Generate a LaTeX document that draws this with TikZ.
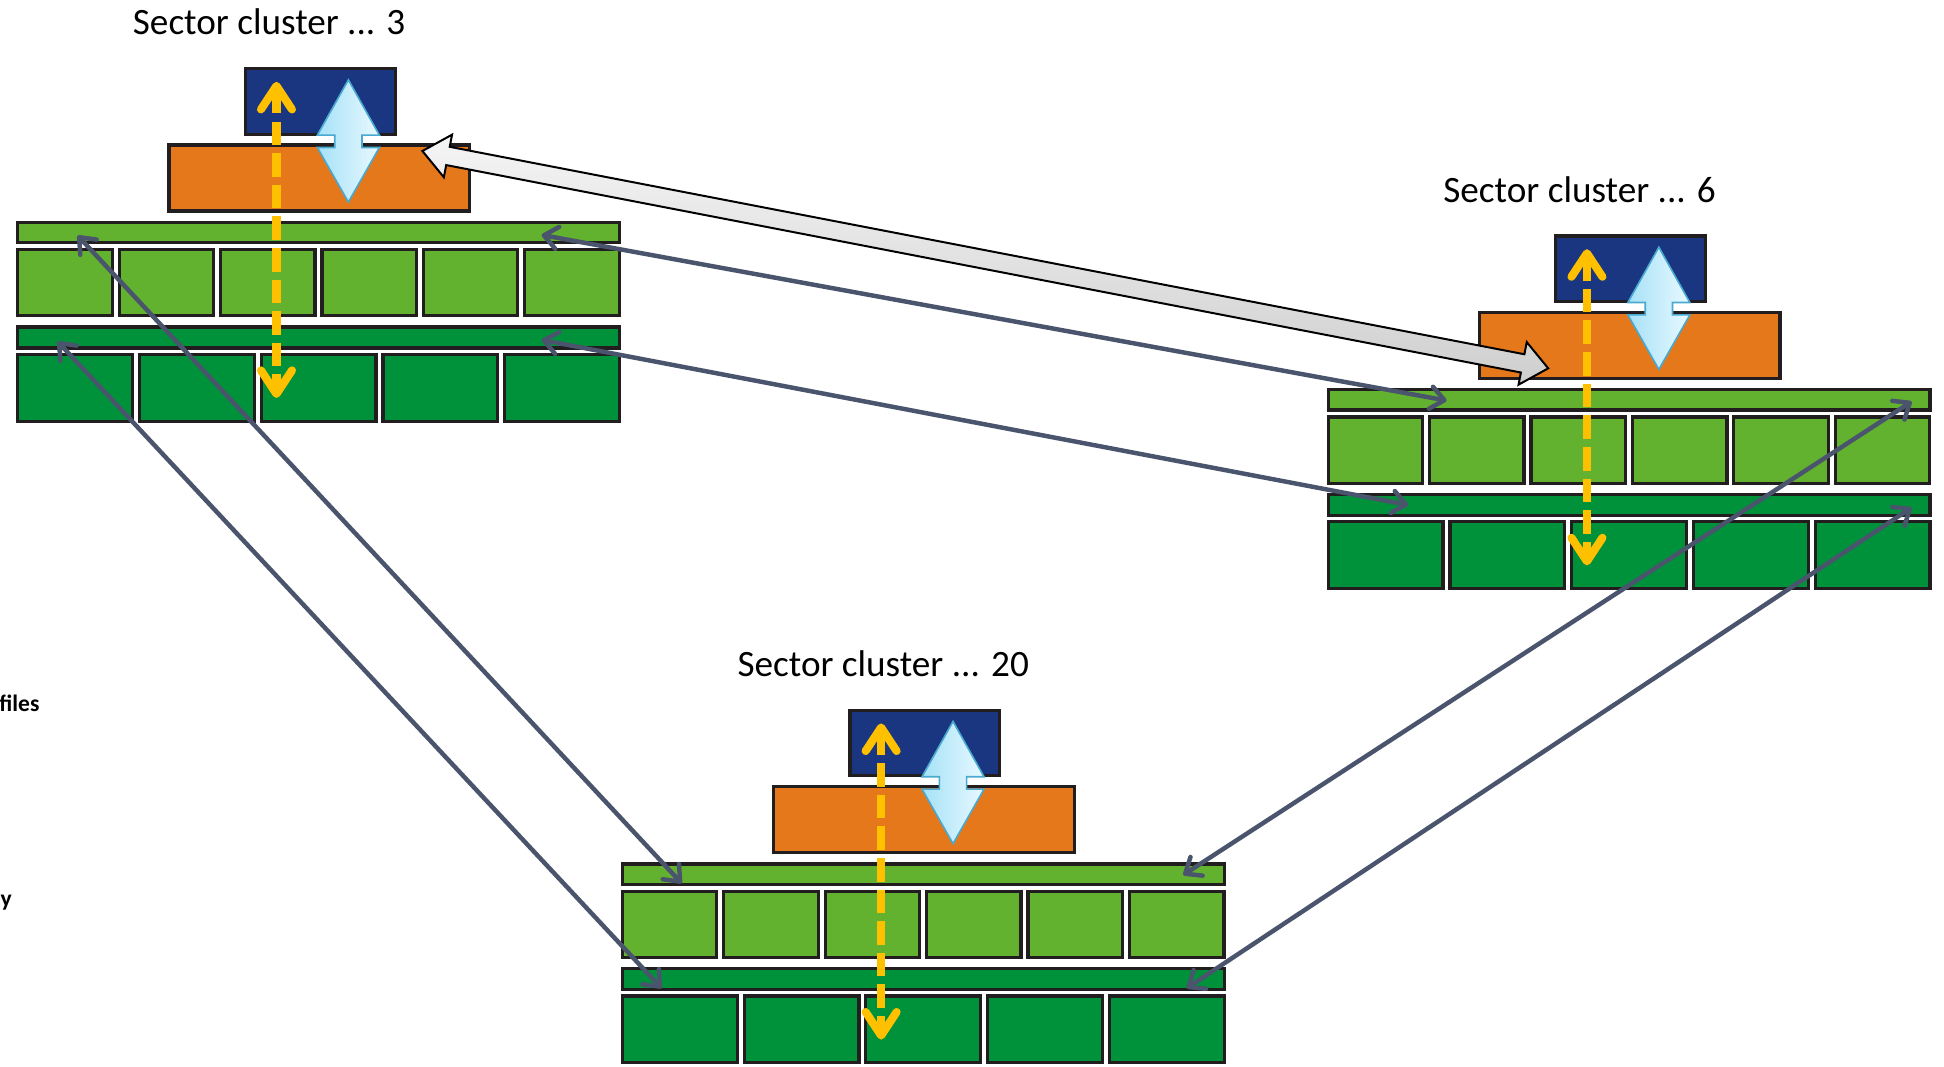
\documentclass[tikz,border=0pt]{standalone}
\usepackage{fontspec}
\setmainfont{Carlito}
\usetikzlibrary{arrows.meta,calc}
\definecolor{lgreen}{HTML}{62B22F}
\definecolor{dgreen}{HTML}{00913B}
\definecolor{orangec}{HTML}{E4781B}
\definecolor{bluec}{HTML}{1B3681}
\definecolor{yellowc}{HTML}{FFC000}
\definecolor{boxline}{HTML}{221E1F}
\definecolor{connc}{HTML}{4A556D}
\definecolor{lbfill}{HTML}{A6E1F7}
\definecolor{lbfilltwo}{HTML}{E8F9FF}
\definecolor{lbline}{HTML}{49A9D0}
\tikzset{
  cellbox/.style={draw=boxline, line width=2.6pt, inner sep=0pt, outer sep=0pt, anchor=north west},
  lgbox/.style={fill=lgreen},
  dgbox/.style={fill=dgreen},
  orangebox/.style={fill=orangec},
  bluebox/.style={fill=bluec},
  titletext/.style={font=\fontsize{30}{34}\selectfont, inner sep=0pt},
  sidetext/.style={font=\bfseries\fontsize{19}{22}\selectfont, inner sep=0pt},
  yarrow/.style={draw=yellowc, line width=6.5pt, dash pattern=on 19pt off 6.5pt,
     arrows={Straight Barb[length=19pt,width=25pt,round]-Straight Barb[length=19pt,width=25pt,round]}},
  lbarrow/.style={draw=lbline, line width=1.3pt, left color=lbfill, right color=lbfilltwo, line join=miter},
  conn/.style={draw=connc, line width=3.6pt, line cap=round,
     arrows={Straight Barb[length=11pt,width=18pt,round]-Straight Barb[length=11pt,width=18pt,round]}},
  grayarrow/.style={draw=black, line width=1.6pt, top color=gray!8, bottom color=gray!38, line join=miter}
}
\newcommand\rectnode[6]{%
  \node[cellbox,#1, minimum width={#5pt-2.6pt}, minimum height={#6pt-2.6pt}] (#2) at ({#3+1.3},{-(#4)-1.3}) {};}
\newcommand\sectorcluster[4]{%
\begin{scope}[shift={(#2,-#3)}]
  \node[titletext, anchor=base west] (#1t) at (94,150) {#4};
  \rectnode{bluebox}{#1bl}{183.5}{-124}{123.5}{55.5}
  \rectnode{orangebox}{#1or}{122}{-62.3}{245}{55.8}
  \rectnode{lgbox}{#1lb}{0}{0}{488}{19}
  \foreach \i in {0,...,5} {\rectnode{lgbox}{#1lc\i}{\i*81.8}{22}{78.8}{56}}
  \rectnode{dgbox}{#1db}{0}{84.5}{488}{19.5}
  \foreach \i in {0,...,4} {\rectnode{dgbox}{#1dc\i}{\i*98.2}{106.5}{95.2}{56.5}}
\end{scope}}
\newcommand\clusterarrows[3]{%
\begin{scope}[shift={(#2,-#3)}]
  \coordinate (#1yt) at (210,112);
  \coordinate (#1yb) at (210,-143);
  \draw[yarrow] (#1yt) -- (#1yb);
  \draw[lbarrow] (268,113.6) -- (293,69) -- (279,69) -- (279,59) -- (293,59) -- (268,15)
     -- (243,59) -- (257,59) -- (257,69) -- (243,69) -- cycle;
\end{scope}}
\begin{document}
\begin{tikzpicture}[x=1pt,y=1pt]
\useasboundingbox (0,0) rectangle (1568,-860);
\sectorcluster{c3}{13}{178}{Sector cluster ... 3}
\sectorcluster{c6}{1070}{313}{Sector cluster ... 6}
\sectorcluster{c20}{500.7}{695.5}{Sector cluster ... 20}
\clusterarrows{c3}{13}{178}
\clusterarrows{c6}{1070}{313}
\clusterarrows{c20}{500.7}{695.5}
\node[sidetext, anchor=base east] (files) at (32,-573.6) {files};
\node[sidetext, anchor=base east] (ytext) at (9.8,-731) {y};
% connector end points
\coordinate (a2) at ($(c3lb.north west)+(422.6,-10.2)$);
\coordinate (b2) at ($(c6lb.north west)+(95.5,-8.8)$);
\coordinate (a3) at ($(c3lb.north west)+(422.6,-94.9)$);
\coordinate (b3) at ($(c6lb.north west)+(64.6,-93)$);
\coordinate (a4) at ($(c3lb.north west)+(48.3,-10.7)$);
\coordinate (b4) at ($(c20lb.north west)+(47.8,-15.6)$);
\coordinate (a5) at ($(c3lb.north west)+(32.2,-96.2)$);
\coordinate (b5) at ($(c20lb.north west)+(31.6,-100.3)$);
\coordinate (a6) at ($(c6lb.north west)+(470.6,-9.6)$);
\coordinate (b6) at ($(c20lb.north west)+(452.4,-8.9)$);
\coordinate (a7) at ($(c6lb.north west)+(470.6,-95.1)$);
\coordinate (b7) at ($(c20lb.north west)+(455.1,-100.3)$);
\foreach \k in {2,...,7} {\draw[conn] (a\k) -- (b\k);}
% big gray double arrow
\coordinate (gA) at ($(c3or.north east)+(-38,-4.8)$);
\coordinate (gB) at ($(c6or.south west)+(55.5,8.1)$);
\pgfpointdiff{\pgfpointanchor{gA}{center}}{\pgfpointanchor{gB}{center}}
\pgfgetlastxy{\gdx}{\gdy}
\pgfmathsetmacro\gang{atan2(\gdy,\gdx)}
\pgfmathsetmacro\glen{veclen(\gdx,\gdy)}
\begin{scope}[shift={(gA)}, rotate=\gang]
  \draw[grayarrow] (0,0) -- (21,17.5) -- (21,7.5) -- ({\glen-21},7.5) -- ({\glen-21},17.5) -- (\glen,0)
    -- ({\glen-21},-17.5) -- ({\glen-21},-7.5) -- (21,-7.5) -- (21,-17.5) -- cycle;
\end{scope}
\end{tikzpicture}
\end{document}
